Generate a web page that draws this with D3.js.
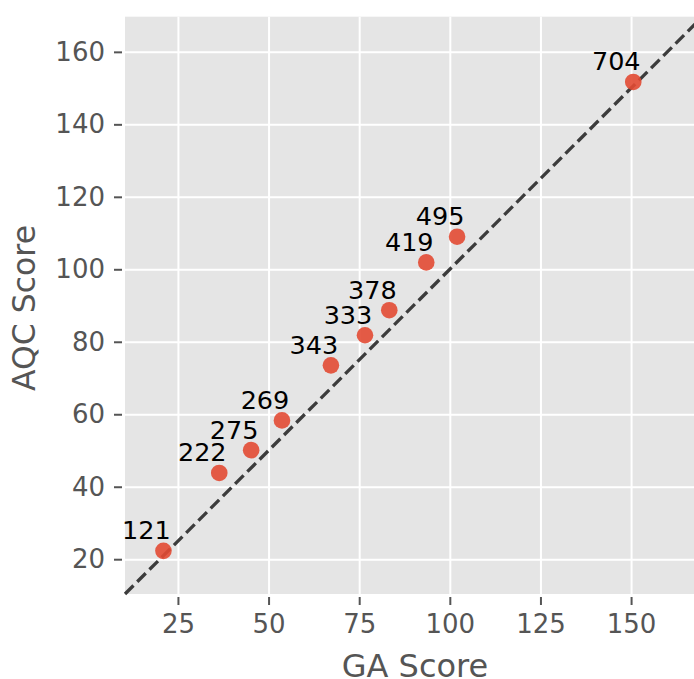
<!DOCTYPE html>
<html>
  <head>
    <meta charset="utf-8">
    <title></title>
  </head>
  <style>
    body{
      margin:0;
      padding:0;
      background-color:#fff;
      font-family:"DejaVu Sans";
    }
    svg{ display:block }
    .axis path{ display:none }
    .axis .tick line{ stroke:#555; stroke-width:2 }
    .axis .tick text{ fill:#555; font-size:26px; font-family:"DejaVu Sans" }
    .grid line{ stroke:#fff; stroke-width:2 }
    .grid path{ display:none }
    .grid text{ display:none }
  </style>
  <script src="https://d3js.org/d3.v7.min.js"></script>
  <body>
    <script>
    // data
    var labels  = ["121", "222", "275", "269", "343", "333", "378", "419", "495", "704"]
    var gaScore = [21.0, 36.4, 45.2, 53.7, 67.2, 76.6, 83.3, 93.5, 102.0, 150.6]
    var aqcScore = [22.3, 43.8, 50.1, 58.3, 73.5, 81.8, 88.7, 101.9, 109.0, 151.7]
    var xTicks = [25, 50, 75, 100, 125, 150]
    var yTicks = [20, 40, 60, 80, 100, 120, 140, 160]
    var lim = [10.4, 169.7]

    var W = 694, H = 679
    var pLeft = 125, pTop = 16.7, pBottom = 594, pRight = 702.5

    var svg = d3.select("body").append("svg")
                .attr("width", W)
                .attr("height", H)

    var x = d3.scaleLinear().domain(lim).range([pLeft, pRight])
    var y = d3.scaleLinear().domain(lim).range([pBottom, pTop])

    // background
    svg.append("rect")
       .attr("x", pLeft).attr("y", pTop)
       .attr("width", pRight - pLeft).attr("height", pBottom - pTop)
       .attr("fill", "#e5e5e5")

    // grid
    svg.append("g").attr("class", "grid")
       .attr("transform", "translate(0," + pBottom + ")")
       .call(d3.axisBottom(x).tickValues(xTicks).tickSize(-(pBottom - pTop)))
    svg.append("g").attr("class", "grid")
       .attr("transform", "translate(" + pLeft + ",0)")
       .call(d3.axisLeft(y).tickValues(yTicks).tickSize(-(pRight - pLeft)))

    // axes
    svg.append("g").attr("class", "axis")
       .attr("transform", "translate(0," + (pBottom + 3) + ")")
       .call(d3.axisBottom(x).tickValues(xTicks).tickSize(8).tickPadding(10))
    svg.append("g").attr("class", "axis")
       .attr("transform", "translate(" + (pLeft - 3) + ",0)")
       .call(d3.axisLeft(y).tickValues(yTicks).tickSize(8).tickPadding(9))

    // y = x reference line
    svg.append("line")
       .attr("x1", x(lim[0])).attr("y1", y(lim[0]))
       .attr("x2", x(lim[1])).attr("y2", y(lim[1]))
       .attr("stroke", "#333")
       .attr("stroke-opacity", 0.95)
       .attr("stroke-width", 3.3)
       .attr("stroke-dasharray", "12,5.3")

    var pts = labels.map(function(l, i){ return [gaScore[i], aqcScore[i], l] })

    svg.append("g").selectAll("circle")
       .data(pts)
       .enter()
       .append("circle")
       .attr("cx", function(d){ return x(d[0]) })
       .attr("cy", function(d){ return y(d[1]) })
       .attr("r", 8.3)
       .attr("fill", "#E24A33")
       .attr("fill-opacity", 0.9)

    // point labels sit up and to the left of each dot
    svg.append("g").selectAll("text")
       .data(pts)
       .enter()
       .append("text")
       .attr("x", function(d){ return x(d[0]) - 17 })
       .attr("y", function(d){ return y(d[1]) - 11.5 })
       .attr("text-anchor", "middle")
       .attr("font-size", "25.5px")
       .attr("fill", "#000")
       .text(function(d){ return d[2] })

    // axis titles
    svg.append("text")
       .attr("x", 415)
       .attr("y", 677)
       .attr("text-anchor", "middle")
       .attr("font-size", "32px")
       .attr("fill", "#555")
       .text("GA Score")

    svg.append("text")
       .attr("transform", "translate(34.5,308) rotate(-90)")
       .attr("text-anchor", "middle")
       .attr("font-size", "31.5px")
       .attr("fill", "#555")
       .text("AQC Score")
    </script>
  </body>
</html>
